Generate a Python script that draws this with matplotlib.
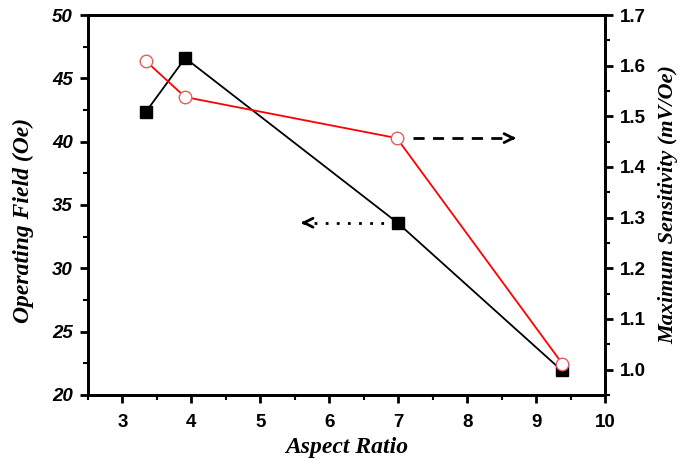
import matplotlib.pyplot as plt
from matplotlib.ticker import MultipleLocator

aspect = [3.34, 3.91, 6.99, 9.37]
field = [42.35, 46.6, 33.6, 21.95]
aspect_s = [3.34, 3.91, 6.98, 9.38]
sens = [1.609, 1.538, 1.457, 1.012]

fig = plt.figure(figsize=(6.95, 4.63), dpi=100)
ax = fig.add_axes([0.1266, 0.1469, 0.7439, 0.8207])
ax2 = ax.twinx()

ax.plot(aspect, field, color='black', lw=1.3, marker='s', ms=8.5, mfc='black', mec='black', zorder=3)
ax2.plot(aspect_s, sens, color='red', lw=1.3, marker='o', ms=9, mfc='white', mec='#e06060', mew=1.0, zorder=3)

# arrows pointing to the matching axis: dotted/dashed shaft + solid head
ax.plot([5.62, 6.8], [33.6, 33.6], color='black', lw=2, ls=(0, (1, 3)))
ax.annotate('', xy=(5.55, 33.6), xytext=(5.68, 33.6),
            arrowprops=dict(arrowstyle='->', color='black', lw=2, mutation_scale=16))
ax2.plot([7.22, 8.66], [1.457, 1.457], color='black', lw=2, ls=(0, (4, 3)))
ax2.annotate('', xy=(8.75, 1.457), xytext=(8.6, 1.457),
             arrowprops=dict(arrowstyle='->', color='black', lw=2, mutation_scale=16))

ax.set_xlim(2.5, 10)
ax.set_ylim(20, 50)
ax2.set_ylim(0.95, 1.7)

ax.xaxis.set_major_locator(MultipleLocator(1))
ax.xaxis.set_minor_locator(MultipleLocator(0.5))
ax.yaxis.set_major_locator(MultipleLocator(5))
ax.yaxis.set_minor_locator(MultipleLocator(2.5))
ax2.yaxis.set_major_locator(MultipleLocator(0.1))
ax2.yaxis.set_minor_locator(MultipleLocator(0.05))
ax2.yaxis.set_major_formatter(plt.FormatStrFormatter('%.1f'))

for a in (ax, ax2):
    for s in a.spines.values():
        s.set_linewidth(2)
    a.tick_params(which='major', direction='out', length=6, width=2, pad=5)
    a.tick_params(which='minor', direction='out', length=3.5, width=1.5)
ax.tick_params(top=False, which='both')
ax.tick_params(axis='x', pad=8)
ax.set_xticks([3, 4, 5, 6, 7, 8, 9, 10])

tick_font = dict(family='Liberation Sans', weight='bold', size=13.5)
for lab in ax.get_xticklabels():
    lab.set(**tick_font)
for lab in ax.get_yticklabels():
    lab.set(**tick_font, style='italic')
for lab in ax2.get_yticklabels():
    lab.set(**tick_font)

label_font = dict(family='Liberation Serif', weight='bold', style='italic')
ax.set_xlabel('Aspect Ratio', **label_font, size=17, labelpad=4)
ax.set_ylabel('Operating Field (Oe)', **label_font, size=17)
ax.yaxis.set_label_coords(-0.104, 0.46)
ax2.set_ylabel('Maximum Sensitivity (mV/Oe)', **label_font, size=16)
ax2.yaxis.set_label_coords(1.103, 0.5)

fig.savefig('out.png', dpi=100)
